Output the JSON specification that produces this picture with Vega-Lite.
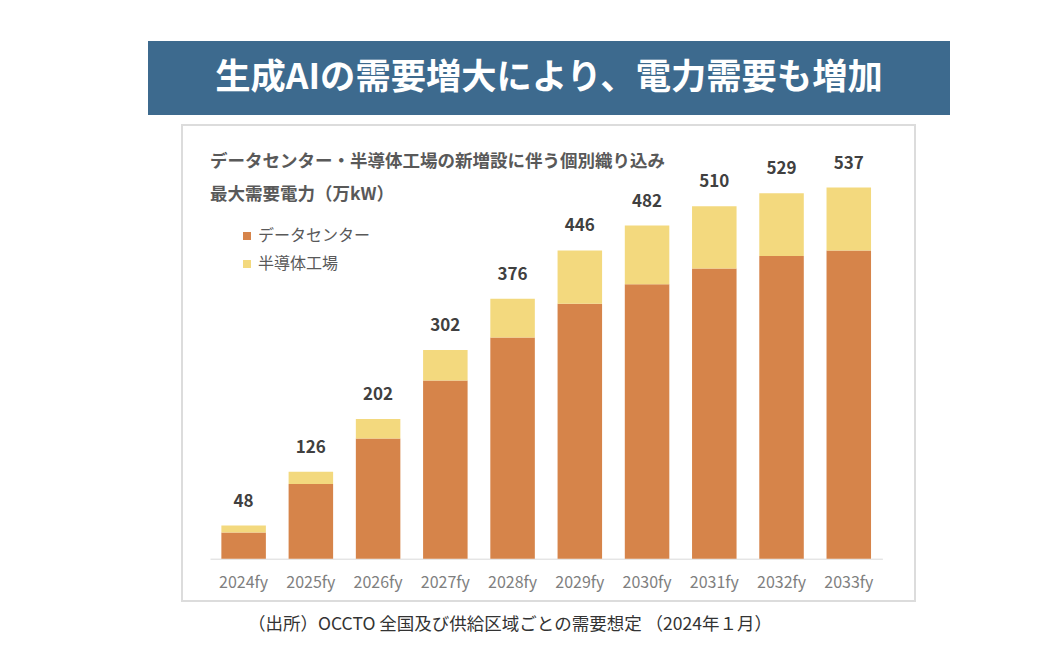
{
  "$schema": "https://vega.github.io/schema/vega-lite/v6.json",
  "padding": {"left": 148, "top": 41, "right": 0, "bottom": 10},
  "background": "white",
  "config": {"font": "Noto Sans CJK JP"},
  "datasets": {
    "banner": [{"t": "生成AIの需要増大により、電力需要も増加"}],
    "bars": [
      {"year": "2024fy", "category": "データセンター", "value": 38},
      {"year": "2024fy", "category": "半導体工場", "value": 10},
      {"year": "2025fy", "category": "データセンター", "value": 108},
      {"year": "2025fy", "category": "半導体工場", "value": 18},
      {"year": "2026fy", "category": "データセンター", "value": 174},
      {"year": "2026fy", "category": "半導体工場", "value": 28},
      {"year": "2027fy", "category": "データセンター", "value": 258},
      {"year": "2027fy", "category": "半導体工場", "value": 44},
      {"year": "2028fy", "category": "データセンター", "value": 320},
      {"year": "2028fy", "category": "半導体工場", "value": 56},
      {"year": "2029fy", "category": "データセンター", "value": 369},
      {"year": "2029fy", "category": "半導体工場", "value": 77},
      {"year": "2030fy", "category": "データセンター", "value": 397},
      {"year": "2030fy", "category": "半導体工場", "value": 85},
      {"year": "2031fy", "category": "データセンター", "value": 420},
      {"year": "2031fy", "category": "半導体工場", "value": 90},
      {"year": "2032fy", "category": "データセンター", "value": 438},
      {"year": "2032fy", "category": "半導体工場", "value": 91},
      {"year": "2033fy", "category": "データセンター", "value": 446},
      {"year": "2033fy", "category": "半導体工場", "value": 91}
    ],
    "totals": [
      {"year": "2024fy", "total": 48},
      {"year": "2025fy", "total": 126},
      {"year": "2026fy", "total": 202},
      {"year": "2027fy", "total": 302},
      {"year": "2028fy", "total": 376},
      {"year": "2029fy", "total": 446},
      {"year": "2030fy", "total": 482},
      {"year": "2031fy", "total": 510},
      {"year": "2032fy", "total": 529},
      {"year": "2033fy", "total": 537}
    ]
  },
  "title": {
    "text": "（出所）OCCTO 全国及び供給区域ごとの需要想定 （2024年１月）",
    "orient": "bottom",
    "anchor": "start",
    "dx": 100,
    "offset": 14,
    "fontSize": 17.5,
    "fontWeight": "normal",
    "color": "#333333",
    "font": "Noto Sans CJK JP"
  },
  "resolve": {"legend": {"color": "independent"}, "scale": {"color": "independent"}},
  "center": true,
  "spacing": 9,
  "vconcat": [
    {
      "width": 802,
      "height": 74,
      "view": {"fill": "#3d6a8e", "stroke": null},
      "data": {"name": "banner"},
      "mark": {"type": "text", "color": "white", "fontSize": 35.3, "fontWeight": "bold", "baseline": "middle", "align": "center", "font": "Noto Sans CJK JP"},
      "encoding": {"text": {"field": "t"}}
    },
    {
      "width": 733,
      "height": 476,
      "view": {"stroke": "#dcdcdc", "strokeWidth": 2},
      "title": {
        "text": ["データセンター・半導体工場の新増設に伴う個別織り込み", "最大需要電力（万kW）"],
        "orient": "top",
        "anchor": "start",
        "frame": "group",
        "offset": -78,
        "dx": 28,
        "fontSize": 17.5,
        "fontWeight": "bold",
        "color": "#595959",
        "lineHeight": 33,
        "font": "Noto Sans CJK JP"
      },
      "encoding": {
        "x": {
          "field": "year",
          "type": "nominal",
          "scale": {"type": "band", "range": [28, 700.4], "paddingInner": 0.338, "paddingOuter": 0.169},
          "axis": {
            "title": null,
            "labelAngle": 0,
            "labelFontSize": 16,
            "labelColor": "#7f7f7f",
            "labelPadding": 16,
            "ticks": false,
            "domainColor": "#d9d9d9",
            "domainWidth": 1,
            "offset": -42.3,
            "grid": false
          }
        }
      },
      "layer": [
        {
          "data": {"name": "bars"},
          "mark": {"type": "bar"},
          "encoding": {
            "y": {
              "field": "value",
              "type": "quantitative",
              "stack": "zero",
              "scale": {"domain": [-61.2, 627.6], "nice": false, "zero": false},
              "axis": null
            },
            "color": {
              "field": "category",
              "type": "nominal",
              "scale": {"domain": ["データセンター", "半導体工場"], "range": ["#d6844a", "#f3d97e"]},
              "legend": {
                "title": null,
                "orient": "none",
                "legendX": 57,
                "legendY": 103,
                "symbolType": "square",
                "symbolSize": 64,
                "symbolStrokeWidth": 0,
                "labelFontSize": 16,
                "labelColor": "#595959",
                "labelFont": "Noto Sans CJK JP",
                "rowPadding": 12,
                "labelOffset": 3
              }
            },
            "order": {"field": "category", "sort": "ascending"}
          }
        },
        {
          "data": {"name": "totals"},
          "mark": {"type": "text", "fontSize": 17, "fontWeight": "bold", "color": "#404040", "baseline": "alphabetic", "dy": -19, "font": "Noto Sans CJK JP"},
          "encoding": {
            "y": {"field": "total", "type": "quantitative"},
            "text": {"field": "total", "type": "quantitative"}
          }
        }
      ]
    }
  ]
}
